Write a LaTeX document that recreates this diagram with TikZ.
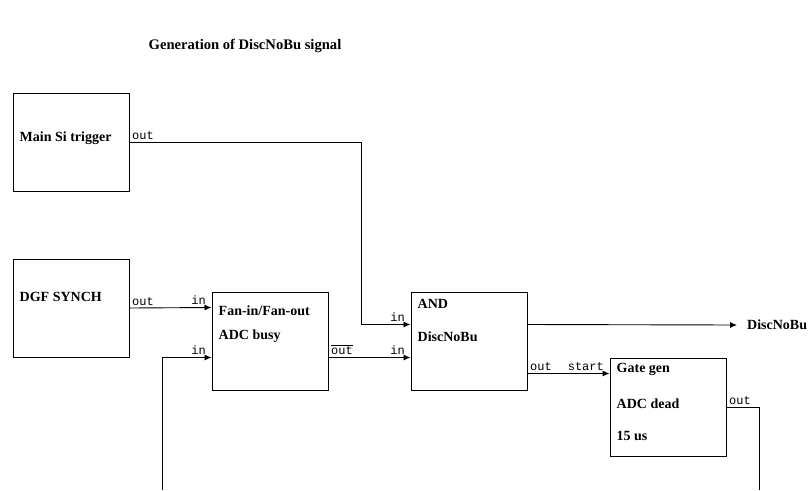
\documentclass[tikz,border=0pt]{standalone}
\usepackage{fontspec}
\setmainfont{Liberation Serif}
\setmonofont{Liberation Mono}
\usetikzlibrary{arrows.meta, positioning}

\begin{document}
\begin{tikzpicture}[x=1pt, y=-1pt,
      box/.style={draw, line width=1pt, minimum width=116pt, minimum height=98pt, inner sep=0pt},
      txt/.style={anchor=west, inner sep=0pt, font=\bfseries\fontsize{14}{16}\selectfont},
      port/.style={inner sep=2.5pt, font=\ttfamily\fontsize{12}{14}\selectfont},
      arr/.style={-{Latex[length=7pt, width=6pt]}, line width=0.9pt},
      wire/.style={line width=0.9pt}
    ]
      \useasboundingbox (0,0) rectangle (810,490);
      \node[font=\bfseries\fontsize{14.6}{17}\selectfont] (title) at (245,46) {Generation of DiscNoBu signal};

      % boxes
      \node[box] (main) at (71,142)  {};
      \node[box] (dgf)  at (71,308)  {};
      \node[box] (fan)  at (270,341) {};
      \node[box] (and)  at (469,341) {};
      \node[box] (gate) at (668,407) {};

      \node[txt] (maintxt) at ([xshift=7pt, yshift=-46pt]main.north west) {Main Si trigger};
      \node[txt] (dgftxt)  at ([xshift=7pt, yshift=-38pt]dgf.north west)  {DGF SYNCH};
      \node[txt] (fantxt)  at ([xshift=7pt, yshift=-19pt]fan.north west)  {Fan-in/Fan-out};
      \node[txt] (busytxt) at ([xshift=7pt, yshift=-45pt]fan.north west)  {ADC busy};
      \node[txt] (andtxt)  at ([xshift=7pt, yshift=-12pt]and.north west)  {AND};
      \node[txt] (disctxt) at ([xshift=7pt, yshift=-45pt]and.north west)  {DiscNoBu};
      \node[txt] (gatetxt) at ([xshift=7pt, yshift=-12pt]gate.north west) {Gate gen};
      \node[txt] (deadtxt) at ([xshift=7pt, yshift=-46pt]gate.north west) {ADC dead};
      \node[txt] (ustxt)   at ([xshift=7pt, yshift=-78pt]gate.north west) {15 us};
      \node[txt, inner xsep=10pt] (discnobu) at (737,325) {DiscNoBu};

      % ports
      \coordinate (fanin1)  at ([yshift=-16pt]fan.north west);
      \coordinate (fanin2)  at ([yshift=-66pt]fan.north west);
      \coordinate (fanout)  at ([yshift=-66pt]fan.north east);
      \coordinate (andin1)  at ([yshift=-33pt]and.north west);
      \coordinate (andin2)  at ([yshift=-66pt]and.north west);
      \coordinate (andout1) at ([yshift=-33pt]and.north east);
      \coordinate (andout2) at ([yshift=-82pt]and.north east);
      \coordinate (gatein)  at ([yshift=-16pt]gate.north west);
      \coordinate (fanfeed) at (162,490);
      \coordinate (gatefeed) at (759,490);

      % wires
      \draw[arr] (main.east) -- ++(232,0) |- (andin1);
      \draw[arr] (dgf.east) -- (fanin1);
      \draw[arr] (fanfeed) |- (fanin2);
      \draw[arr] (fanout) -- (andin2);
      \draw[arr] (andout1) -- (discnobu.west);
      \draw[arr] (andout2) -- (gatein);
      \draw[wire] (gate.east) -| (gatefeed);

      % port labels
      \node[port, anchor=south west] (mainout) at (main.east) {out};
      \node[port, anchor=south west] (dgfout)  at (dgf.east)  {out};
      \node[port, anchor=south east, xshift=-3pt] (fanin1lbl) at (fanin1) {in};
      \node[port, anchor=south east, xshift=-3pt] (fanin2lbl) at (fanin2) {in};
      \node[port, anchor=south west] (fanoutlbl) at (fanout) {$\overline{\mbox{out}}$};
      \node[port, anchor=south east, xshift=-3pt] (andin1lbl) at (andin1) {in};
      \node[port, anchor=south east, xshift=-3pt] (andin2lbl) at (andin2) {in};
      \node[port, anchor=south west] (andoutlbl) at (andout2) {out};
      \node[port, anchor=south east, xshift=-3pt] (startlbl) at (gatein) {start};
      \node[port, anchor=south west] (gateout) at (gate.east) {out};
    \end{tikzpicture}
\end{document}
